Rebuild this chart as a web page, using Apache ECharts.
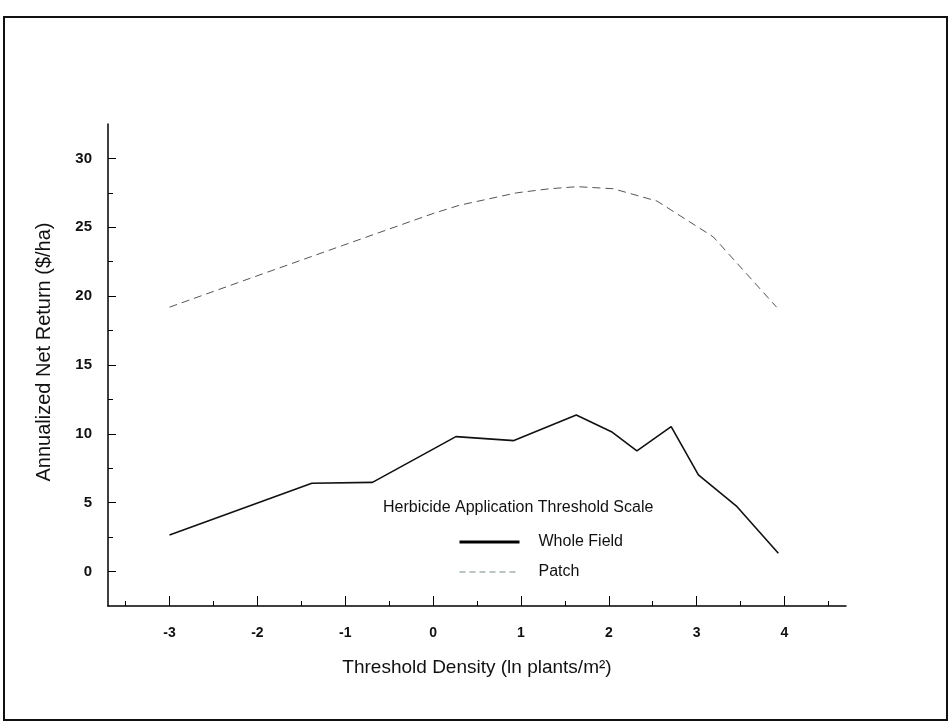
<!DOCTYPE html>
<html>
<head>
<meta charset="utf-8">
<script src="https://cdn.jsdelivr.net/npm/echarts@6/dist/echarts.min.js"></script>
<style>
  html, body { margin: 0; padding: 0; background: #fff; }
  #chart { width: 950px; height: 723px; }
</style>
</head>
<body>
<div id="chart"></div>
<script>
// values
const wholeFieldX = [-3.0, -1.38, -0.69, 0.26, 0.92, 1.63, 2.03, 2.32, 2.71, 3.02, 3.46, 3.93];
const wholeFieldY = [2.66, 6.41, 6.48, 9.8, 9.51, 11.37, 10.16, 8.76, 10.52, 7.02, 4.71, 1.33];
const patchX = [-3.0, -2.08, -1.02, 0.0, 0.3, 0.95, 1.33, 1.64, 2.05, 2.55, 3.19, 3.91];
const patchY = [19.2, 21.3, 23.7, 26.0, 26.6, 27.5, 27.8, 27.95, 27.8, 26.9, 24.3, 19.2];

const xTicks = [-3, -2, -1, 0, 1, 2, 3, 4];
const xMinorTicks = [-3.5, -2.5, -1.5, -0.5, 0.5, 1.5, 2.5, 3.5, 4.5];
const yTicks = [0, 5, 10, 15, 20, 25, 30];
const yMinorTicks = [2.5, 7.5, 12.5, 17.5, 22.5, 27.5];

const fontFam = 'Liberation Sans, Arial, sans-serif';

function zip (xs, ys) {
  return xs.map((x, i) => [x, ys[i]]);
}

const chart = echarts.init(document.getElementById('chart'));

chart.setOption({
  backgroundColor: '#fff',
  animation: false,
  grid: { left: 108, right: 104, top: 124, bottom: 117 },
  graphic: [
    {
      type: 'rect',
      shape: { x: 4, y: 17, width: 943, height: 703 },
      style: { fill: 'none', stroke: '#111', lineWidth: 2 }
    },
    {
      type: 'text',
      left: 383,
      top: 500,
      style: {
        text: 'Herbicide Application Threshold Scale',
        fontSize: 16,
        fontFamily: fontFam,
        fill: '#111'
      }
    }
  ],
  legend: {
    orient: 'vertical',
    left: 458,
    top: 534,
    padding: 0,
    itemWidth: 60,
    itemHeight: 14,
    itemGap: 14,
    textStyle: { fontSize: 16, fontFamily: fontFam, color: '#111', padding: [0, 0, 0, 14] },
    data: [
      { name: 'Whole Field', itemStyle: { opacity: 0 }, lineStyle: { width: 3, color: '#000' } },
      { name: 'Patch', itemStyle: { opacity: 0 }, lineStyle: { width: 1, color: '#7a8a80', type: [6, 4] } }
    ]
  },
  xAxis: [
    {
      type: 'value',
      min: -3.7,
      max: 4.7,
      position: 'bottom',
      name: 'Threshold Density (ln plants/m²)',
      nameLocation: 'middle',
      nameGap: 52,
      nameTextStyle: { fontSize: 19, fontFamily: fontFam, color: '#111' },
      axisLine: { onZero: false, lineStyle: { color: '#000', width: 1.5 } },
      axisTick: { inside: true, length: 10, customValues: xTicks, lineStyle: { color: '#000' } },
      axisLabel: {
        customValues: xTicks,
        margin: 20,
        fontSize: 14,
        fontWeight: 'bold',
        fontFamily: fontFam,
        color: '#111'
      },
      splitLine: { show: false }
    },
    {
      type: 'value',
      min: -3.7,
      max: 4.7,
      position: 'bottom',
      axisLine: { show: false, onZero: false },
      axisTick: { inside: true, length: 5, customValues: xMinorTicks, lineStyle: { color: '#000' } },
      axisLabel: { show: false },
      splitLine: { show: false }
    }
  ],
  yAxis: [
    {
      type: 'value',
      min: -2.5,
      max: 32.5,
      name: 'Annualized Net Return ($/ha)',
      nameLocation: 'middle',
      nameGap: 54,
      nameTextStyle: { fontSize: 20, fontFamily: fontFam, color: '#111', padding: [0, 0, 0, 26] },
      axisLine: { show: true, onZero: false, lineStyle: { color: '#000', width: 1.5 } },
      axisTick: { show: true, inside: true, length: 8, customValues: yTicks, lineStyle: { color: '#000' } },
      axisLabel: {
        customValues: yTicks,
        margin: 16,
        fontSize: 15,
        fontWeight: 'bold',
        fontFamily: fontFam,
        color: '#111'
      },
      splitLine: { show: false }
    },
    {
      type: 'value',
      min: -2.5,
      max: 32.5,
      position: 'left',
      axisLine: { show: false, onZero: false },
      axisTick: { show: true, inside: true, length: 5, customValues: yMinorTicks, lineStyle: { color: '#000' } },
      axisLabel: { show: false },
      splitLine: { show: false }
    }
  ],
  series: [
    {
      name: 'Whole Field',
      type: 'line',
      symbol: 'none',
      color: '#000',
      lineStyle: { color: '#111', width: 1.6 },
      data: zip(wholeFieldX, wholeFieldY)
    },
    {
      name: 'Patch',
      type: 'line',
      symbol: 'none',
      color: '#555',
      lineStyle: { color: '#555', width: 1, type: [8, 5] },
      data: zip(patchX, patchY)
    }
  ]
});
</script>
</body>
</html>
